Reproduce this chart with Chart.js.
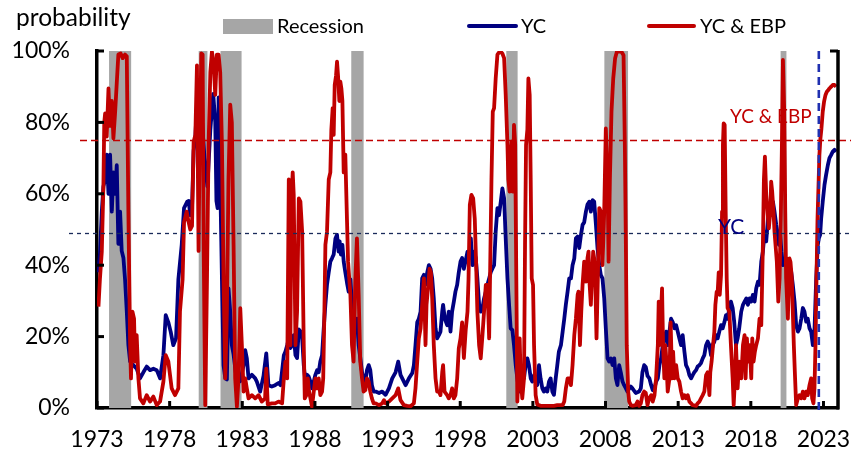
<!DOCTYPE html>
<html><head><meta charset="utf-8">
<script src="https://cdn.jsdelivr.net/npm/chart.js@4.4.1/dist/chart.umd.min.js"></script>
<style>html,body{margin:0;padding:0;background:#fff}#wrap{width:851px;height:453px;position:relative}</style>
</head><body><div id="wrap"><canvas id="c"></canvas></div>
<script>
// ---- data (decimal years, probability in %) ----
const ycYears = [
1973.08,1973.20,1973.33,1973.44,1973.56,1973.67,1973.79,1973.90,1974.02,1974.13,
1974.25,1974.36,1974.47,1974.59,1974.70,1974.82,1974.93,1975.05,1975.16,1975.28,
1975.50,1975.73,1975.96,1976.19,1976.42,1976.65,1976.88,1977.11,1977.34,1977.57,
1977.73,1977.91,1978.07,1978.25,1978.44,1978.60,1978.83,1978.99,1979.21,1979.31,
1979.42,1979.54,1979.65,1979.77,1979.88,1980.00,1980.20,1980.40,1980.60,1980.80,
1981.00,1981.14,1981.22,1981.30,1981.37,1981.48,1981.60,1981.71,1981.83,1981.94,
1982.05,1982.17,1982.28,1982.40,1982.60,1982.86,1983.09,1983.20,1983.31,1983.43,
1983.66,1983.89,1984.00,1984.23,1984.46,1984.65,1984.80,1985.03,1985.26,1985.49,
1985.63,1985.86,1985.97,1986.09,1986.20,1986.31,1986.43,1986.54,1986.66,1986.77,
1986.89,1987.00,1987.12,1987.23,1987.34,1987.46,1987.57,1987.69,1987.80,1987.92,
1988.03,1988.15,1988.26,1988.37,1988.49,1988.60,1988.72,1988.83,1988.95,1989.06,
1989.18,1989.29,1989.41,1989.52,1989.63,1989.70,1989.79,1989.89,1989.98,1990.09,
1990.21,1990.32,1990.44,1990.55,1990.66,1990.78,1990.89,1991.01,1991.12,1991.24,
1991.35,1991.47,1991.58,1991.70,1991.81,1991.92,1992.04,1992.18,1992.41,1992.63,
1992.86,1993.09,1993.32,1993.55,1993.73,1993.89,1994.12,1994.24,1994.47,1994.70,
1994.81,1994.92,1995.04,1995.15,1995.27,1995.38,1995.50,1995.61,1995.73,1995.84,
1995.96,1996.07,1996.18,1996.30,1996.41,1996.53,1996.64,1996.76,1996.82,1996.94,
1997.10,1997.21,1997.33,1997.44,1997.56,1997.67,1997.79,1997.90,1998.02,1998.13,
1998.25,1998.36,1998.50,1998.61,1998.73,1998.84,1998.95,1999.07,1999.18,1999.30,
1999.41,1999.53,1999.64,1999.76,1999.87,1999.99,2000.10,2000.21,2000.33,2000.44,
2000.56,2000.67,2000.79,2000.90,2001.02,2001.13,2001.25,2001.36,2001.47,2001.59,
2001.70,2001.82,2001.93,2002.05,2002.16,2002.27,2002.39,2002.50,2002.62,2002.73,
2002.85,2002.96,2003.08,2003.19,2003.30,2003.42,2003.53,2003.65,2003.76,2003.88,
2003.99,2004.11,2004.22,2004.34,2004.45,2004.57,2004.68,2004.79,2004.93,2005.05,
2005.16,2005.27,2005.39,2005.50,2005.62,2005.73,2005.85,2005.96,2006.08,2006.19,
2006.31,2006.42,2006.53,2006.65,2006.76,2006.88,2006.99,2007.11,2007.22,2007.34,
2007.45,2007.57,2007.68,2007.79,2007.91,2008.02,2008.14,2008.25,2008.37,2008.48,
2008.60,2008.71,2008.82,2008.94,2009.05,2009.17,2009.28,2009.40,2009.51,2009.63,
2009.74,2009.85,2010.08,2010.31,2010.43,2010.54,2010.66,2010.77,2010.89,2011.02,
2011.14,2011.25,2011.37,2011.48,2011.60,2011.71,2011.82,2011.94,2012.05,2012.17,
2012.28,2012.40,2012.51,2012.63,2012.74,2012.86,2012.97,2013.08,2013.20,2013.31,
2013.43,2013.54,2013.66,2013.77,2013.89,2014.00,2014.11,2014.23,2014.34,2014.46,
2014.57,2014.69,2014.80,2014.92,2015.03,2015.15,2015.26,2015.37,2015.49,2015.60,
2015.72,2015.83,2015.95,2016.06,2016.18,2016.29,2016.40,2016.52,2016.63,2016.75,
2016.86,2016.98,2017.09,2017.20,2017.34,2017.46,2017.57,2017.69,2017.80,2017.92,
2018.03,2018.14,2018.26,2018.37,2018.49,2018.60,2018.72,2018.83,2018.95,2019.06,
2019.18,2019.29,2019.40,2019.52,2019.63,2019.75,2019.86,2019.93,2020.02,2020.11,
2020.21,2020.32,2020.43,2020.55,2020.66,2020.78,2020.89,2021.01,2021.12,2021.24,
2021.35,2021.47,2021.58,2021.69,2021.81,2021.92,2022.04,2022.15,2022.27,2022.38,
2022.50,2022.61,2022.68,2022.77,2022.84,2022.95,2023.07,2023.18,2023.30,2023.41,
2023.53,2023.64,2023.76,2023.87];
const ycValues = [
38,43,55,62,64,71,60,71,55,66,
60,68,46,55,44,42,36,27,17.6,13,
12,11,8.3,10,11.6,10.6,11,10.6,8.3,14.8,
26,24,21.4,17.6,19.5,36,45.7,56,57.8,58,
54,56,72,76,85,88,82,70,62,78,
88,80,58,56,87,64,36,12,8.3,8,
33.5,27,17.6,15,8.3,7.5,12,16.2,14,8.3,
9.3,8.3,7.4,4.6,9,15.3,6.4,6,6.4,7,
6.4,14.8,15.8,17.6,19.5,16.8,17.6,20.4,14.8,14,
22,21.5,19.5,12,7.4,9.3,8.8,7.4,5.5,7.4,
9.3,10.6,10,13,14.8,22,29,34.5,38,41,
42,43,47.5,48.5,43.8,46.7,43,45.7,41,38,
35,32.6,36,29,27,22,25,17.6,14,10,
8.3,7.4,10.6,12,10.6,6.4,4.6,4.6,4.2,4.6,
3.7,5.5,8.3,10,13,9.3,7.4,6.4,8.3,9.8,
12,17.6,24,25,27,36.3,37.3,34.5,38,40,
39,36.3,30.7,22.3,19.5,20.4,21.4,27,28.9,25,
23.2,27,21.4,27,29.8,32.6,34.5,38,41,42,
39,41,43.8,42,47.5,40,43.8,42,36.3,29,
27,28,30.7,32.6,34.5,36.3,38,39,40,49.4,
56,54,57.8,61.5,58.7,47.5,36.3,29,22.3,21.8,
17.6,12,8.3,4.6,6.4,9.2,8.3,12,13.9,12,
8.3,7.4,9.2,8.3,6.4,12,8.3,5.5,4.6,5.5,
4.6,7.4,8.3,4.6,3.7,8.3,12,15.8,17.6,21.4,
25,29,32.6,36.3,36.3,40,41.9,47.5,48,44.8,
48.5,51.3,52,55,57,57.8,55,58.2,57.8,51.3,
44.7,40,37.2,36.3,30.7,22.3,13.9,13,13.9,12,
13.9,8.3,6.4,12,10,7.4,6.4,5.5,4.6,5.5,
6,5.5,4.2,4.6,5.5,10,12,11.5,9,8.3,
6.4,5,5.5,7.4,8.3,12,13.9,17.6,19.5,21.4,
17.6,21.4,25,24,22.3,23.2,21.4,19.5,17.6,20.4,
15.8,12,11,9.2,8.3,9.2,10,10.6,11.6,12,
12.6,13.9,14.8,17.6,18.6,17.6,14.8,17.6,18.6,20.4,
19.5,21.4,23.2,22.3,24,26,25,28,29.8,28,
24,17.6,19.5,22.3,27,28.9,29.8,30.7,28.9,30.7,
29.8,31.7,29.8,33.5,35.4,34.5,41,43.8,49.4,46.7,
53,56.9,57.8,57.8,55,51.3,48.5,45.7,48.5,43.8,
40,40.9,41.9,40.9,40,38.2,34.5,29.8,23.2,21.4,
22.3,25,28,27,24.2,25,22.3,21.4,17.6,21.4,
36.3,45.7,47.5,48.5,53,57.8,62.5,65.3,68,70,
70.9,71.8,72.3,71.8];

const ebpYears = [
1973.10,1973.20,1973.33,1973.44,1973.50,1973.56,1973.67,1973.79,1973.90,1974.02,
1974.13,1974.25,1974.36,1974.47,1974.63,1974.77,1974.93,1975.05,1975.16,1975.28,
1975.34,1975.44,1975.55,1975.62,1975.73,1975.85,1975.96,1976.19,1976.42,1976.65,
1976.88,1977.11,1977.34,1977.57,1977.73,1977.91,1978.14,1978.37,1978.60,1978.71,
1978.89,1978.99,1979.17,1979.31,1979.42,1979.54,1979.65,1979.77,1979.88,1979.99,
1980.05,1980.18,1980.27,1980.34,1980.45,1980.57,1980.68,1980.80,1980.91,1981.02,
1981.14,1981.25,1981.37,1981.48,1981.60,1981.71,1981.83,1981.94,1982.05,1982.17,
1982.28,1982.40,1982.51,1982.63,1982.74,1982.86,1982.97,1983.09,1983.20,1983.31,
1983.43,1983.66,1983.89,1984.12,1984.34,1984.57,1984.65,1984.75,1985.03,1985.26,
1985.49,1985.74,1985.86,1985.97,1986.09,1986.20,1986.31,1986.38,1986.47,1986.54,
1986.66,1986.77,1986.89,1987.00,1987.12,1987.23,1987.30,1987.41,1987.51,1987.60,
1987.69,1987.80,1987.92,1988.03,1988.15,1988.26,1988.37,1988.49,1988.57,1988.65,
1988.72,1988.83,1988.95,1989.06,1989.13,1989.22,1989.29,1989.36,1989.45,1989.52,
1989.59,1989.68,1989.75,1989.82,1989.89,1989.98,1990.09,1990.21,1990.28,1990.44,
1990.55,1990.66,1990.78,1990.89,1991.01,1991.12,1991.24,1991.35,1991.47,1991.58,
1991.70,1991.81,1991.92,1992.04,1992.18,1992.41,1992.63,1992.75,1992.86,1993.09,
1993.32,1993.55,1993.73,1993.89,1994.12,1994.35,1994.58,1994.81,1994.92,1995.04,
1995.15,1995.27,1995.38,1995.50,1995.61,1995.68,1995.80,1995.89,1995.98,1996.07,
1996.18,1996.30,1996.41,1996.53,1996.64,1996.76,1996.82,1996.92,1997.10,1997.21,
1997.33,1997.44,1997.56,1997.67,1997.79,1997.90,1998.02,1998.13,1998.25,1998.38,
1998.50,1998.57,1998.66,1998.77,1998.89,1999.00,1999.09,1999.18,1999.30,1999.41,
1999.53,1999.64,1999.76,1999.87,1999.99,2000.05,2000.15,2000.24,2000.33,2000.44,
2000.56,2000.67,2000.79,2000.90,2001.02,2001.13,2001.25,2001.31,2001.40,2001.47,
2001.54,2001.63,2001.70,2001.78,2001.86,2001.93,2002.00,2002.09,2002.16,2002.27,
2002.39,2002.46,2002.53,2002.62,2002.69,2002.78,2002.85,2002.92,2003.01,2003.08,
2003.19,2003.30,2003.53,2003.99,2004.45,2004.68,2005.05,2005.16,2005.27,2005.39,
2005.50,2005.62,2005.73,2005.85,2005.96,2006.08,2006.14,2006.24,2006.33,2006.42,
2006.53,2006.65,2006.76,2006.83,2006.88,2006.99,2007.06,2007.15,2007.22,2007.29,
2007.38,2007.47,2007.57,2007.68,2007.79,2007.91,2008.02,2008.14,2008.21,2008.30,
2008.41,2008.53,2008.66,2008.78,2008.94,2009.10,2009.24,2009.33,2009.40,2009.46,
2009.56,2009.63,2009.74,2009.85,2010.08,2010.20,2010.31,2010.43,2010.54,2010.66,
2010.77,2010.89,2011.00,2011.14,2011.25,2011.37,2011.48,2011.60,2011.66,2011.73,
2011.82,2011.89,2011.96,2012.05,2012.12,2012.19,2012.28,2012.40,2012.48,2012.58,
2012.65,2012.74,2012.86,2012.97,2013.08,2013.20,2013.31,2013.43,2013.54,2013.66,
2013.77,2013.89,2014.00,2014.23,2014.34,2014.46,2014.57,2014.69,2014.80,2014.92,
2015.03,2015.15,2015.21,2015.30,2015.40,2015.49,2015.56,2015.65,2015.72,2015.79,
2015.86,2015.95,2016.02,2016.08,2016.13,2016.20,2016.27,2016.34,2016.40,2016.52,
2016.63,2016.75,2016.82,2016.91,2016.98,2017.09,2017.20,2017.34,2017.46,2017.57,
2017.64,2017.73,2017.82,2017.92,2018.03,2018.10,2018.19,2018.28,2018.37,2018.49,
2018.60,2018.72,2018.83,2018.90,2018.97,2019.06,2019.15,2019.24,2019.34,2019.40,
2019.47,2019.56,2019.63,2019.70,2019.79,2019.89,2019.98,2020.07,2020.14,2020.21,
2020.30,2020.37,2020.43,2020.55,2020.66,2020.73,2020.82,2020.89,2020.96,2021.03,
2021.12,2021.24,2021.35,2021.47,2021.58,2021.69,2021.81,2021.92,2022.04,2022.15,
2022.22,2022.31,2022.38,2022.45,2022.52,2022.59,2022.66,2022.72,2022.79,2022.86,
2022.95,2023.04,2023.14,2023.23,2023.32,2023.41,2023.53,2023.64,2023.76,2023.87];
const ebpValues = [
28.4,36,43.8,62,80,82.5,76,89.5,79,86,
75.5,83,91,99,99.3,98,99,98.5,55,17.6,
8.3,27,25,13,20.4,8.3,2.7,1.3,3.6,1.8,
3.2,0.8,1.8,7.4,14.8,13,5.5,3.6,5.5,27,
36,52,55,52,50,51,74.6,76.5,96,44,
69,99.3,99,45.7,0.8,36,73.7,94,99.8,97,
87.7,99,99,94,73.7,36,8.3,27,64,85,
80,45.7,8.3,0.4,8.3,28,17.6,4.6,8.3,5.5,
2.7,3.6,2.7,3.6,1.8,2.7,11,1,1.3,1.3,
1.8,1.3,8.3,13,8.3,64,17.6,58.7,66,59.7,
17.6,27,58.7,57.8,49.4,17.6,2.7,3.6,8.3,4.6,
2.7,0.4,4.6,8.3,5.5,8.3,3.6,4.6,8.3,27,
45.7,49.4,64,66,78,84,76.5,90.5,93,97,
93,86,91.4,89.5,86,66,71,52,41,31.7,
17.6,13,36,47.5,31.7,13,8.3,4.6,5,8.3,
7.4,4.6,2.7,1.3,1.3,0.8,1.3,2.2,1.3,1.8,
2.7,3.6,5.5,2.2,0.8,0.6,0.5,1.3,5.5,13,
19.5,22.3,28.9,36.3,17.6,28.9,34.5,39,38,30.7,
17.6,8.3,4.6,4.6,3.6,10,12,4.6,3.6,2.7,
3.6,5.5,2.7,3.6,8.3,16.7,19.5,24,14,22,
27,36,56.9,59.7,58.7,53,41,27,17.6,13.9,
20.4,27,34.5,34.5,19.5,36.3,64,83,84,92.3,
99,99.6,99.8,99.3,98,87.7,73.7,64,60.6,71.7,
74.6,60.6,79.3,74,36.3,1.8,8.3,19.5,8.3,2.7,
8.3,45.7,73.7,78,92.3,87.7,64,36.3,34.5,17.6,
3.6,1,0.6,0.6,0.6,0.8,0.8,1.8,5.5,8.3,
8.3,6.4,12,20.4,25,31.7,32.6,17.6,27,34.5,
41,35.4,42,43.8,36.3,28.9,36.3,43.8,41.9,36.3,
19.5,36.3,56,55,40,55,78.3,64,41,64,
83,92.3,98,99.8,99.8,99.8,98.8,73.7,45.7,17.6,
4.6,1.8,0.8,0.6,0.8,1.8,0.6,1.3,3.6,4.6,
4.2,0.8,2.7,3.6,1.8,3.6,8.3,17.6,29.8,17.6,
27,33.5,17.6,8.3,17.6,13,4.6,8.3,24,8.3,
15.8,8.3,12,8.3,7.4,4.6,2.7,3.6,2.7,3.6,
1.8,1.3,0.8,0.6,1.3,1.8,2.7,3.6,4.6,9.2,
10,3.6,10,13,17.6,21.4,28.9,32.6,32.6,38,
31.7,37.3,55,73.7,79.7,79.3,55,36.3,28,27,
17.6,8.3,0.8,8.3,17.6,5.5,13,8.3,17.6,20.4,
8.3,19.5,13,17.6,8.3,19.5,13,15.8,17.6,19.5,
25,23.2,45.7,64,70.4,59.7,55,50.3,55,63.4,
60.6,55,49.4,45.7,41,29.8,36.3,55,73.7,97.5,
83,55,36.3,25,41.9,40.9,36.3,27,17.6,10,
0.8,2.7,3.6,2.7,4.6,2.7,4.6,3.6,6.4,8.3,
2.7,1.3,5.5,17.6,36.3,53,62.5,70.9,75.5,78.3,
83,85.8,87.7,88.6,89,89.5,90,90.5,90.5,90];

const recessionStarts = [1973.83, 1980.00, 1981.50, 1990.50, 2001.17, 2007.92, 2020.05];
const recessionEnds   = [1975.35, 1980.60, 1982.95, 1991.35, 2001.95, 2009.55, 2020.45];
const yearTicks = [1973,1978,1983,1988,1993,1998,2003,2008,2013,2018,2023];
const probTicks = [0,20,40,60,80,100];
const thresholdYC = 49;
const thresholdEBP = 75;
const forecastStart = 2022.68;

// ---- styling ----
const RED = '#c00000', NAVY = '#000080', GRAY = '#a6a6a6';
const FONT = 'Lato';

const toPts = (xs, ys) => xs.map((x, i) => ({x: x, y: ys[i]}));

const decor = {
  id: 'decor',
  beforeDatasetsDraw(chart) {
    const {ctx, chartArea: a, scales: {x}} = chart;
    ctx.save();
    ctx.fillStyle = GRAY;
    recessionStarts.forEach((s, i) => {
      const x0 = x.getPixelForValue(s), x1 = x.getPixelForValue(recessionEnds[i]);
      ctx.fillRect(x0, a.top, x1 - x0, a.bottom - a.top);
    });
    ctx.restore();
  },
  afterDatasetsDraw(chart) {
    const {ctx, chartArea: a, scales: {x, y}} = chart;
    ctx.save();
    ctx.lineWidth = 1.3;
    ctx.strokeStyle = RED; ctx.setLineDash([7, 4]);
    let yy = Math.round(y.getPixelForValue(thresholdEBP)) + 0.5;
    ctx.beginPath(); ctx.moveTo(a.left - 17, yy); ctx.lineTo(chart.width, yy); ctx.stroke();
    ctx.strokeStyle = '#1a2a5a'; ctx.setLineDash([4, 4]);
    yy = Math.round(y.getPixelForValue(thresholdYC)) + 0.5;
    ctx.beginPath(); ctx.moveTo(a.left - 28, yy); ctx.lineTo(chart.width, yy); ctx.stroke();
    const fx = x.getPixelForValue(forecastStart);
    ctx.strokeStyle = '#2030b0'; ctx.lineWidth = 2.6; ctx.setLineDash([8, 5]);
    ctx.beginPath(); ctx.moveTo(fx, a.top); ctx.lineTo(fx, a.bottom + 5); ctx.stroke();
    ctx.setLineDash([]);
    ctx.textBaseline = 'alphabetic'; ctx.textAlign = 'left';
    ctx.fillStyle = RED; ctx.font = '19px ' + FONT;
    ctx.fillText('YC & EBP', 730, 123);
    ctx.fillStyle = NAVY; ctx.font = '21px ' + FONT;
    ctx.fillText('YC', 718, 234);
    ctx.restore();
  },
  afterDraw(chart) {
    const {ctx, chartArea: a, scales: {x, y}} = chart;
    ctx.save();
    ctx.strokeStyle = '#000'; ctx.lineWidth = 3;
    probTicks.forEach(v => {
      const py = y.getPixelForValue(v);
      ctx.beginPath(); ctx.moveTo(a.left, py); ctx.lineTo(a.left + 7, py); ctx.stroke();
    });
    yearTicks.forEach(v => {
      const px = x.getPixelForValue(v);
      ctx.beginPath(); ctx.moveTo(px, a.bottom); ctx.lineTo(px, a.bottom - 7); ctx.stroke();
    });
    ctx.lineWidth = 3.5;
    ctx.beginPath(); ctx.moveTo(a.right, a.top - 1); ctx.lineTo(a.right, a.bottom + 1.5); ctx.stroke();
    ctx.lineWidth = 3;
    ctx.beginPath(); ctx.moveTo(a.right, a.top); ctx.lineTo(a.right - 8, a.top); ctx.stroke();
    ctx.fillStyle = '#000'; ctx.textBaseline = 'alphabetic'; ctx.textAlign = 'left';
    ctx.font = '24.5px ' + FONT;
    ctx.fillText('probability', 16, 26);
    ctx.font = '20px ' + FONT;
    ctx.fillStyle = GRAY; ctx.fillRect(223, 19, 50, 15);
    ctx.fillStyle = '#000'; ctx.fillText('Recession', 277, 33);
    ctx.lineCap = 'round'; ctx.lineWidth = 4;
    ctx.strokeStyle = NAVY; ctx.beginPath(); ctx.moveTo(469, 26); ctx.lineTo(516, 26); ctx.stroke();
    ctx.fillText('YC', 521, 33);
    ctx.strokeStyle = RED; ctx.beginPath(); ctx.moveTo(649, 26); ctx.lineTo(694, 26); ctx.stroke();
    ctx.fillText('YC & EBP', 700, 33);
    ctx.restore();
  }
};

new Chart(document.getElementById('c'), {
  type: 'line',
  data: {
    datasets: [
      {label: 'YC & EBP', data: toPts(ebpYears, ebpValues), borderColor: RED, borderWidth: 3.8,
       pointRadius: 0, tension: 0, fill: false, order: 0, borderJoinStyle: 'round'},
      {label: 'YC', data: toPts(ycYears, ycValues), borderColor: NAVY, borderWidth: 3.8,
       pointRadius: 0, tension: 0, fill: false, order: 1, borderJoinStyle: 'round'}
    ]
  },
  options: {
    responsive: true, maintainAspectRatio: false, animation: false,
    layout: {padding: {left: 0, right: 13, top: 51, bottom: 0}},
    plugins: {legend: {display: false}, tooltip: {enabled: false}},
    scales: {
      x: {
        type: 'linear', min: 1973, max: 2024,
        grid: {display: false, drawTicks: false},
        border: {display: true, color: '#000', width: 3.5},
        ticks: {font: {family: FONT, size: 23}, color: '#000', padding: 18, maxRotation: 0, autoSkip: false,
                callback: v => String(v)},
        afterBuildTicks: s => { s.ticks = yearTicks.map(v => ({value: v})); },
        afterFit: s => { s.height = 45; s.paddingLeft = 0; s.paddingRight = 0; }
      },
      y: {
        min: 0, max: 100,
        grid: {display: false, drawTicks: false},
        border: {display: true, color: '#000', width: 3.5},
        ticks: {stepSize: 20, font: {family: FONT, size: 23}, color: '#000', padding: 27,
                callback: v => v + '%'},
        afterBuildTicks: s => { s.ticks = probTicks.map(v => ({value: v})); },
        afterFit: s => { s.width = 97; s.paddingTop = 0; s.paddingBottom = 0; }
      }
    }
  },
  plugins: [decor]
});
</script>
</body></html>
